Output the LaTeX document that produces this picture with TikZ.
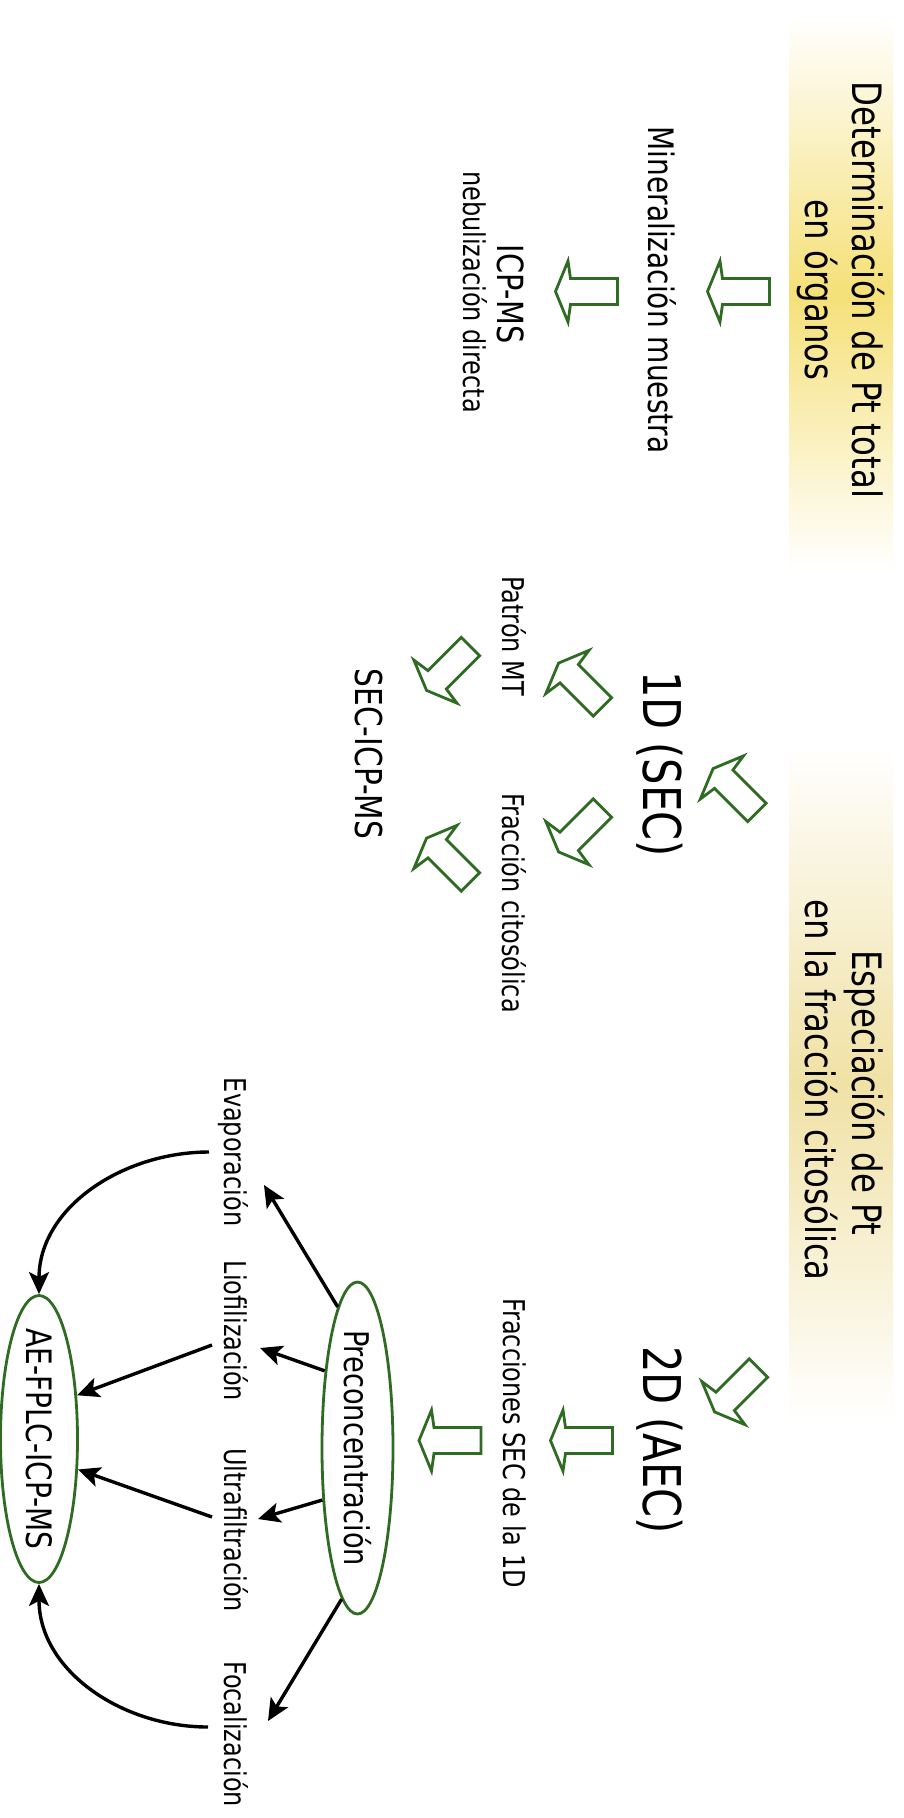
\documentclass[tikz,border=0pt]{standalone}
\usepackage{fontspec}
\setmainfont[FakeStretch=0.8]{DejaVu Sans}
\usetikzlibrary{calc}
\usetikzlibrary{arrows.meta}
\usetikzlibrary{shapes.geometric}
\definecolor{bandgold}{RGB}{245,224,120}
\definecolor{bandsand}{RGB}{240,225,165}
\definecolor{arrowgreen}{RGB}{47,107,35}
\tikzset{
  head/.style={anchor=base, inner sep=0pt, font=\fontsize{40.5}{47}\selectfont},
  stage/.style={anchor=base, inner sep=0pt, font=\fontsize{52}{60}\selectfont},
  big/.style={anchor=base, inner sep=0pt, font=\fontsize{36}{42}\selectfont},
  small/.style={anchor=base, inner sep=0pt, font=\fontsize{30}{36}\selectfont},
  oval/.style={ellipse, draw=arrowgreen, line width=2.8pt, inner ysep=0pt},
  blk/.style={line width=3.4pt, -{Stealth[length=22pt, width=20pt, inset=5pt]}},
  pics/hollowarrow/.style={code={
    \draw[arrowgreen, line width=2.8pt, line join=miter] (-31,-13) -- (16,-13) -- (18.5,-30.5) -- (31,0) -- (18.5,30.5) -- (16,13) -- (-31,13) -- cycle;
  }}
}
\begin{document}
\begin{tikzpicture}[x=1pt, y=1pt]
\useasboundingbox (0,0) rectangle (903,-1818);
\fill[white] (0,0) rectangle (903,-1818);
\shade[top color=white, bottom color=white, middle color=bandgold] (789,-17) rectangle (893,-570);
\shade[top color=white, bottom color=white, middle color=bandsand] (789,-745) rectangle (893,-1420);
\begin{scope}[rotate=-90, transform shape]
\node[head] (det1) at (290,852) {Determinación de Pt total};
\node[head] (det2) at (290,805) {en órganos};
\node[head] (esp1) at (1093,852) {Especiación de Pt};
\node[head] (esp2) at (1090,805) {en la fracción citosólica};
\node[big, font=\fontsize{35}{40}\selectfont] (miner) at (290,648) {Mineralización muestra};
\node[big] (icp) at (294,497) {ICP-MS};
\node[small] (nebu) at (292,463) {nebulización directa};
\node[stage] (sec1) at (764,643) {1D (SEC)};
\node[small] (patron) at (636,502) {Patrón MT};
\node[small] (fraccit) at (903,502) {Fracción citosólica};
\node[big, font=\fontsize{37}{42}\selectfont] (secicp) at (754,355) {SEC-ICP-MS};
\node[stage] (aec2) at (1440,643) {2D (AEC)};
\node[small] (fracsec) at (1443,503) {Fracciones SEC de la 1D};
\node[oval, font=\fontsize{34}{40}\selectfont, minimum width=332, minimum height=71, inner xsep=-6pt] (precon) at (1448,357.5) {Preconcentración};
\node[oval, font=\fontsize{35}{40}\selectfont, minimum width=287, minimum height=77, inner xsep=-11pt] (ae) at (1439,39) {AE-FPLC-ICP-MS};
\foreach \name/\txt/\x in {evap/Evaporación/1152, liof/Liofilización/1331, ultra/Ultrafiltración/1530, foc/Focalización/1734}
  \node[small] (\name) at (\x,224) {\txt};
\foreach \pos/\ang in {(291.5,738.5)/-90, (291.5,586.5)/-90, (790.5,735)/-135, (1390,736.5)/-45,
  (685,580.5)/-135, (830,580.5)/-45, (668.5,448.5)/-45, (860,448.5)/-135, (1440.5,581.5)/-90, (1440.5,450)/-90}
  \pic[rotate=\ang] at \pos {hollowarrow};
\draw[blk] (precon.188) -- ($(evap.base)+(33,40)$);
\draw[blk] (precon.203) -- ($(liof.base)+(17,36)$);
\draw[blk] (precon.326) -- ($(ultra.base)+(-11,34)$);
\draw[blk] (precon.354) -- ($(foc.base)+(-13,44)$);
\draw[blk] ($(liof.base)+(14,-12)$) -- (ae.139);
\draw[blk] ($(ultra.base)+(-13,-12)$) -- (ae.52);
\draw[blk] ($(evap.base)+(0,-15)$) to[out=-90, in=180] (ae.west);
\draw[blk] ($(foc.base)+(-7,-16)$) to[out=-90, in=0] (ae.east);
\end{scope}
\end{tikzpicture}
\end{document}
